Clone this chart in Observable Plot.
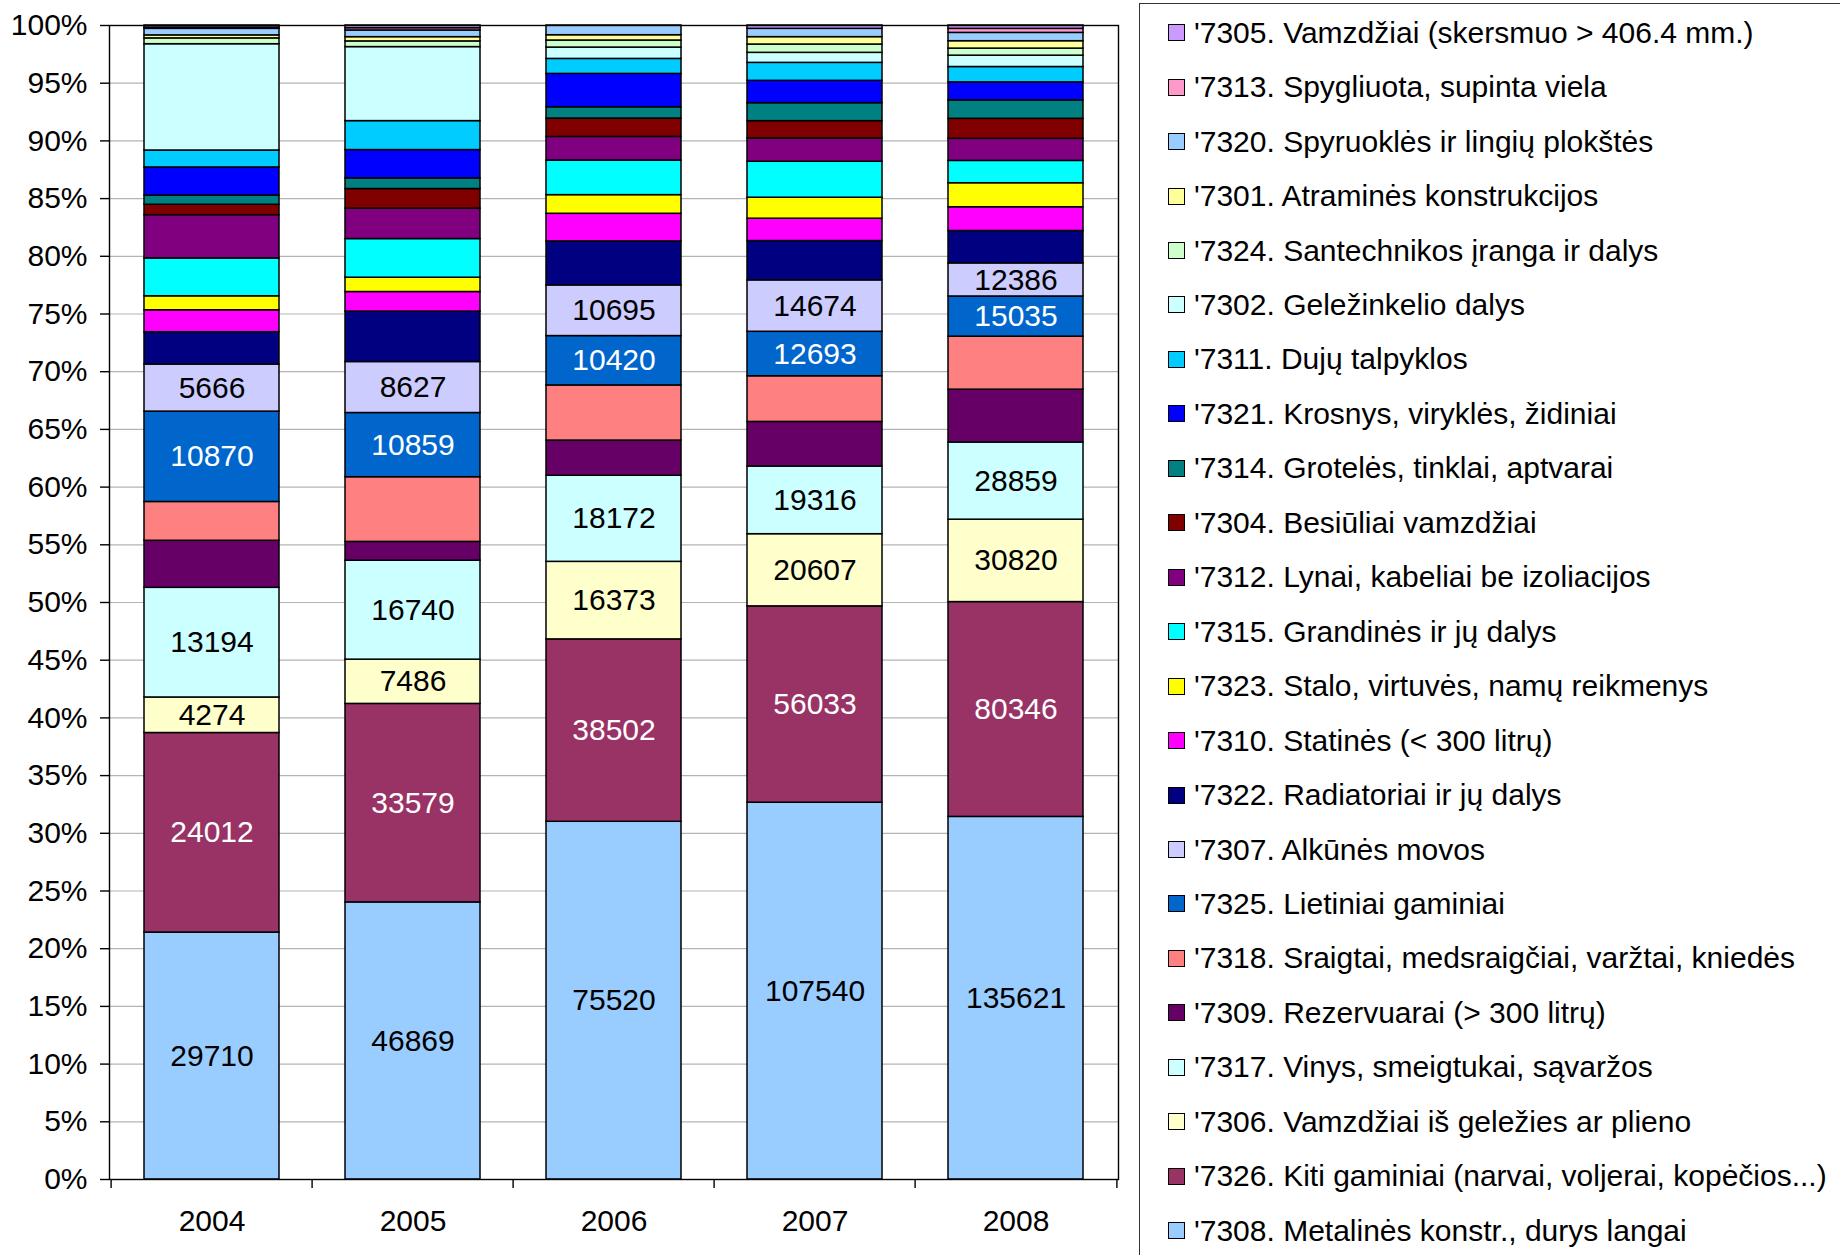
<!DOCTYPE html>
<html>
<head>
<meta charset="utf-8">
<script src="https://cdn.jsdelivr.net/npm/d3@7"></script>
<script src="https://cdn.jsdelivr.net/npm/@observablehq/plot@0.6"></script>
<style>
  html, body { margin: 0; padding: 0; background: #fff; }
  body { width: 1840px; height: 1255px; overflow: hidden; position: relative; font-family: "Liberation Sans", Arial, sans-serif; }
  #chart { position: absolute; left: 0; top: 0; }
  #legend { position: absolute; left: 1139px; top: 3px; width: 760px; height: 1300px; padding-top: 1.5px;
            border-left: 1.5px solid #333; border-top: 1.5px solid #333; box-sizing: border-box; }
  .item { display: flex; align-items: center; height: 54.46px; font-size: 30px; color: #000; white-space: nowrap; }
  .sw { width: 15px; height: 15px; border: 1.2px solid #000; margin-left: 28px; margin-right: 9px; flex: none; }
</style>
</head>
<body>
<div id="chart"></div>
<div id="legend"></div>
<script>
// ---------- DATA ----------
const years = ["2004", "2005", "2006", "2007", "2008"];

// series, from bottom of each stack to top
const codes = ["7308","7326","7306","7317","7309","7318","7325","7307","7322","7310","7323",
               "7315","7312","7304","7314","7321","7311","7302","7324","7301","7320","7313","7305"];

const names = [
  "Metalinės konstr., durys langai",
  "Kiti gaminiai (narvai, voljerai, kopėčios...)",
  "Vamzdžiai iš geležies ar plieno",
  "Vinys, smeigtukai, sąvaržos",
  "Rezervuarai (> 300 litrų)",
  "Sraigtai, medsraigčiai, varžtai, kniedės",
  "Lietiniai gaminiai",
  "Alkūnės movos",
  "Radiatoriai ir jų dalys",
  "Statinės (< 300 litrų)",
  "Stalo, virtuvės, namų reikmenys",
  "Grandinės ir jų dalys",
  "Lynai, kabeliai be izoliacijos",
  "Besiūliai vamzdžiai",
  "Grotelės, tinklai, aptvarai",
  "Krosnys, viryklės, židiniai",
  "Dujų talpyklos",
  "Geležinkelio dalys",
  "Santechnikos įranga ir dalys",
  "Atraminės konstrukcijos",
  "Spyruoklės ir lingių plokštės",
  "Spygliuota, supinta viela",
  "Vamzdžiai (skersmuo > 406.4 mm.)"
];

// values per series, one per year (2004..2008)
const v7308 = [29710, 46869, 75520, 107540, 135621];
const v7326 = [24012, 33579, 38502, 56033, 80346];
const v7306 = [4274, 7486, 16373, 20607, 30820];
const v7317 = [13194, 16740, 18172, 19316, 28859];
const v7309 = [5660, 3180, 7430, 12730, 19770];
const v7318 = [4670, 10940, 11640, 13030, 19810];
const v7325 = [10870, 10859, 10420, 12693, 15035];
const v7307 = [5666, 8627, 10695, 14674, 12386];
const v7322 = [3890, 8520, 9280, 11220, 12110];
const v7310 = [2640, 3320, 5840, 6380, 8870];
const v7323 = [1680, 2420, 3940, 5990, 9000];
const v7315 = [4550, 6540, 7300, 10260, 8350];
const v7312 = [5210, 5140, 4990, 6650, 8260];
const v7304 = [1250, 3320, 3870, 4940, 7480];
const v7314 = [1110, 1800, 2390, 5130, 6880];
const v7321 = [3380, 4790, 7040, 6380, 6750];
const v7311 = [2040, 4900, 3170, 5130, 5750];
const v7302 = [12790, 12520, 2390, 2860, 4240];
const v7324 = [700, 960, 1490, 2370, 2640];
const v7301 = [360, 720, 1120, 2110, 2770];
const v7320 = [790, 1130, 2050, 2370, 3110];
const v7313 = [150, 390, 0, 0, 1510];
const v7305 = [250, 450, 0, 950, 1250];

const seriesValues = [v7308, v7326, v7306, v7317, v7309, v7318, v7325, v7307, v7322, v7310, v7323,
                      v7315, v7312, v7304, v7314, v7321, v7311, v7302, v7324, v7301, v7320, v7313, v7305];

// series that carry value labels
const darkLabelCodes = ["7308", "7306", "7317", "7307"];
const lightLabelCodes = ["7326", "7325"];

// y tick labels (percent)
const yTicks = [0,5,10,15,20,25,30,35,40,45,50,55,60,65,70,75,80,85,90,95,100];

// ---------- STYLE ----------
const colors = ["#99CCFF","#993366","#FFFFCC","#CCFFFF","#660066","#FF8080","#0066CC","#CCCCFF","#000080","#FF00FF","#FFFF00",
                "#00FFFF","#800080","#800000","#008080","#0000FF","#00CCFF","#CCFFFF","#CCFFCC","#FFFF99","#99CCFF","#FF99CC","#CC99FF"];

const W = 1139, H = 1255;
const mL = 109, mR = W - 1118, mT = 25, mB = H - 1179;
const step = (W - mL - mR) / years.length;
const FS = 30;

const table = [];
codes.forEach((c, i) => years.forEach((y, j) => table.push({year: y, code: c, value: seriesValues[i][j]})));

const stackOpts = {x: "year", y: "value", z: "code", order: codes, offset: "normalize"};

const chart = Plot.plot({
  width: W, height: H,
  marginLeft: mL, marginRight: mR, marginTop: mT, marginBottom: mB,
  style: {fontFamily: "'Liberation Sans', Arial, sans-serif", fontSize: FS + "px", color: "#000", background: "#fff"},
  x: {domain: years, paddingInner: 0.33, paddingOuter: 0.165, axis: null, label: null},
  y: {domain: [0, 1], axis: null, label: null},
  color: {domain: codes, range: colors},
  marks: [
    Plot.gridY({ticks: yTicks.map(t => t / 100), stroke: "#b4b4b4", strokeOpacity: 1, strokeWidth: 1.2}),
    Plot.barY(table, Plot.stackY({...stackOpts, fill: "code", stroke: "#000", strokeWidth: 1.5})),
    Plot.text(table, Plot.stackY({...stackOpts, text: d => darkLabelCodes.includes(d.code) ? String(d.value) : null,
                                  fill: "#000", fontSize: FS})),
    Plot.text(table, Plot.stackY({...stackOpts, text: d => lightLabelCodes.includes(d.code) ? String(d.value) : null,
                                  fill: "#fff", fontSize: FS})),
    Plot.frame({stroke: "#000", strokeWidth: 1.4}),
    Plot.axisY({ticks: yTicks.map(t => t / 100), tickFormat: d => Math.round(d * 100) + "%",
                tickSize: 9, tickPadding: 13, fontSize: FS, stroke: "#000", strokeWidth: 1.4}),
    Plot.axisX({tickSize: 0, tickPadding: 30, fontSize: FS}),
    Plot.ruleX(years, {x: d => d, y1: () => 0, y2: () => 0, insetBottom: -9, dx: -step / 2, stroke: "#000", strokeWidth: 1.4}),
    Plot.ruleX(years.slice(-1), {x: d => d, y1: () => 0, y2: () => 0, insetBottom: -9, dx: step / 2, stroke: "#000", strokeWidth: 1.4})
  ]
});
document.getElementById("chart").appendChild(chart);

// ---------- LEGEND ----------
const legend = document.getElementById("legend");
for (let i = codes.length - 1; i >= 0; i--) {
  const item = document.createElement("div");
  item.className = "item";
  const sw = document.createElement("span");
  sw.className = "sw";
  sw.style.background = colors[i];
  const tx = document.createElement("span");
  tx.textContent = "'" + codes[i] + ". " + names[i];
  item.appendChild(sw);
  item.appendChild(tx);
  legend.appendChild(item);
}
</script>
</body>
</html>
